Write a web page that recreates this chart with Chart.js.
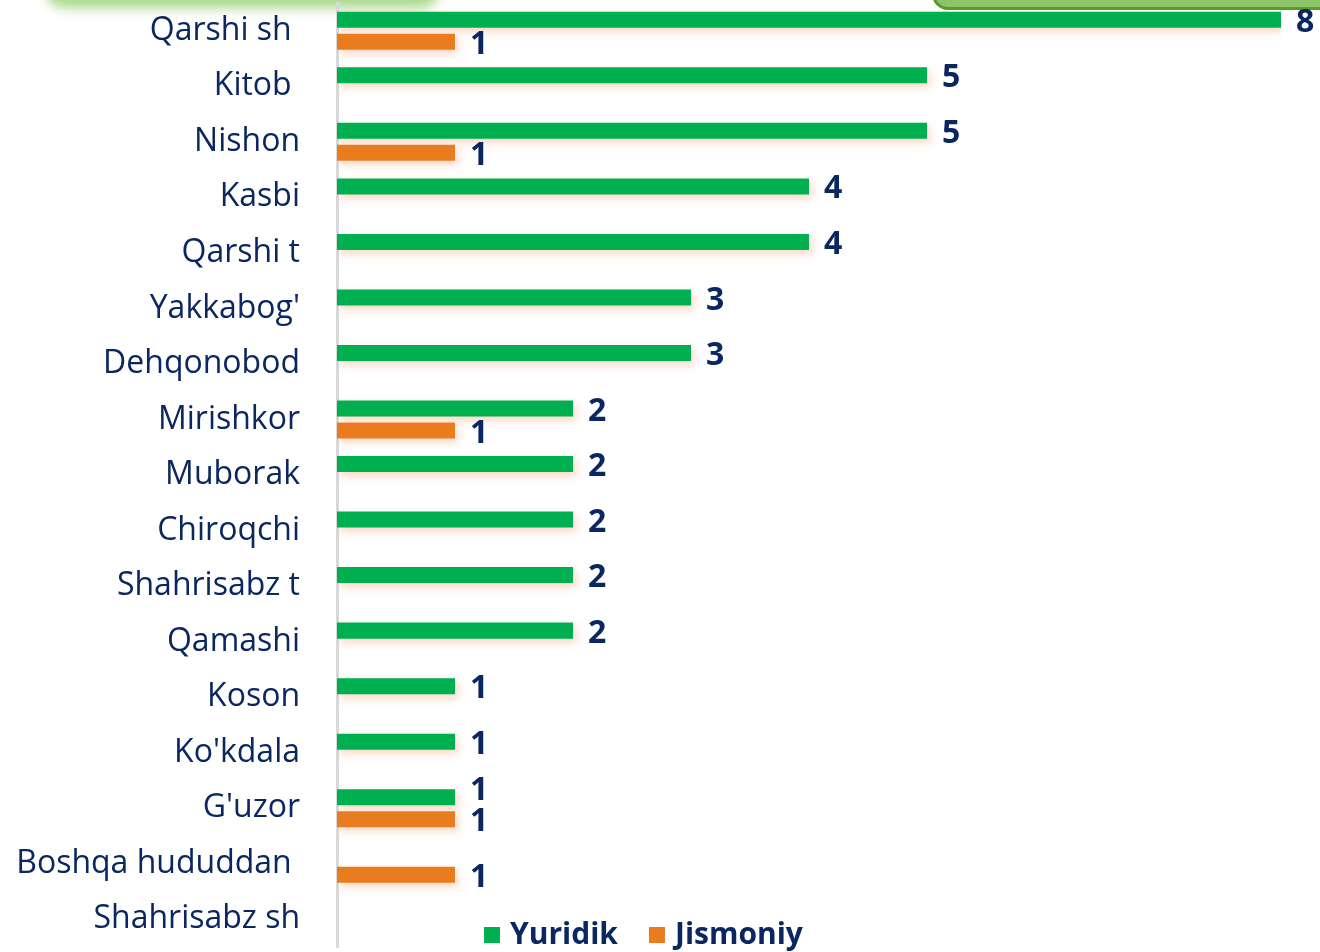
<!DOCTYPE html>
<html>
<head>
<meta charset="utf-8">
<script src="https://cdn.jsdelivr.net/npm/chart.js@4.4.1/dist/chart.umd.min.js"></script>
<style>
    html, body { margin: 0; padding: 0; background: #fff; overflow: hidden; }
    #wrap { position: relative; width: 1320px; height: 952px; }
    #glow { position: absolute; left: 45px; top: -34px; width: 395px; height: 42px; background: #a9d98b; border-radius: 20px; filter: blur(6px); }
    #box { position: absolute; left: 932px; top: -40px; width: 420px; height: 44px; background: #8cc567; border: 3px solid #5d9a2c; border-radius: 16px; }
    canvas { position: absolute; left: 0; top: 0; }
</style>
</head>
<body>
<div id="wrap">
    <div id="glow"></div>
    <div id="box"></div>
    <canvas id="chart" width="1320" height="952"></canvas>
</div>
<script>
// ================= DATA =================
const regions = [
    "Qarshi sh ", "Kitob ", "Nishon", "Kasbi", "Qarshi t", "Yakkabog'", "Dehqonobod",
    "Mirishkor", "Muborak", "Chiroqchi", "Shahrisabz t", "Qamashi", "Koson",
    "Ko'kdala", "G'uzor", "Boshqa hududdan ", "Shahrisabz sh"
];
const yuridik  = [8, 5, 5, 4, 4, 3, 3, 2, 2, 2, 2, 2, 1, 1, 1, 0, 0];
const jismoniy = [1, 0, 1, 0, 0, 0, 0, 1, 0, 0, 0, 0, 0, 0, 1, 1, 0];
const seriesNames = ["Yuridik", "Jismoniy"];
const seriesColors = ["#00b050", "#e97c1f"];

const NAVY = "#0b2761";

// soft peach glow under the bars
const barShadow = {
    id: "barShadow",
    beforeDatasetsDraw(chart) {
        const ctx = chart.ctx;
        ctx.save();
        ctx.shadowColor = "rgba(240,140,90,0.35)";
        ctx.shadowBlur = 8;
        ctx.shadowOffsetX = 3;
        ctx.shadowOffsetY = 4;
    },
    afterDatasetsDraw(chart) {
        chart.ctx.restore();
    }
};

// numbers at the bar ends
const valueLabels = {
    id: "valueLabels",
    afterDatasetsDraw(chart) {
        const ctx = chart.ctx;
        const sets = chart.data.datasets;
        ctx.save();
        ctx.font = "bold 32px 'Open Sans', 'Noto Sans', sans-serif";
        ctx.fillStyle = NAVY;
        ctx.textAlign = "left";
        ctx.textBaseline = "middle";
        sets.forEach((ds, i) => {
            chart.getDatasetMeta(i).data.forEach((bar, j) => {
                const v = ds.data[j];
                if (!v) return;
                let dy = 3;
                // two equal bars side by side: lift the upper number
                if (i === 0 && sets[1].data[j] === v) dy = -6;
                ctx.fillText(String(v), bar.x + 15, bar.y + dy);
            });
        });
        ctx.restore();
    }
};

// legend at the bottom, over the plot
const bottomLegend = {
    id: "bottomLegend",
    afterDraw(chart) {
        const ctx = chart.ctx;
        ctx.save();
        ctx.font = "bold 30px 'Open Sans', 'Noto Sans', sans-serif";
        ctx.textBaseline = "middle";
        ctx.textAlign = "left";
        let x = 484;
        chart.data.datasets.forEach(ds => {
            ctx.fillStyle = ds.backgroundColor;
            ctx.fillRect(x, 927, 16, 16);
            ctx.fillStyle = NAVY;
            ctx.fillText(ds.label, x + 26, 935);
            x += 26 + ctx.measureText(ds.label).width + 31;
        });
        ctx.restore();
    }
};

new Chart(document.getElementById("chart"), {
    type: "bar",
    data: {
        labels: regions,
        datasets: [
            { label: seriesNames[0], data: yuridik, backgroundColor: seriesColors[0] },
            { label: seriesNames[1], data: jismoniy, backgroundColor: seriesColors[1] }
        ]
    },
    options: {
        indexAxis: "y",
        responsive: false,
        animation: false,
        categoryPercentage: 0.79,
        barPercentage: 0.73,
        layout: { padding: { top: 3, bottom: 5, left: 0, right: 39 } },
        plugins: {
            legend: { display: false },
            tooltip: { enabled: false }
        },
        scales: {
            x: { display: false, min: 0, max: 8 },
            y: {
                afterFit: (s) => {
                    s.width = 337;
                    s.paddingTop = 0;
                    s.paddingBottom = 0;
                },
                grid: { display: false },
                border: { display: true, color: "#d9d9d9", width: 3 },
                ticks: {
                    color: NAVY,
                    padding: 29,
                    font: { family: "'Open Sans', 'Noto Sans', sans-serif", size: 32 }
                }
            }
        }
    },
    plugins: [barShadow, valueLabels, bottomLegend]
});
</script>
</body>
</html>
